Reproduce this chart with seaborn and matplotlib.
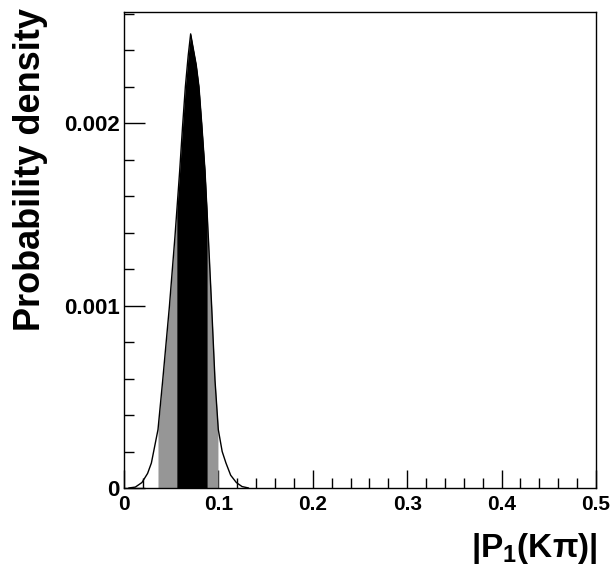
import numpy as np
import pandas as pd
import seaborn as sns
import matplotlib
matplotlib.use("Agg")
import matplotlib.pyplot as plt
from matplotlib.ticker import MultipleLocator, FuncFormatter

# Posterior density of |P1(Kpi)|
p1_values = [0.005, 0.012, 0.019, 0.025, 0.029, 0.036, 0.041, 0.048, 0.054,
             0.059, 0.062, 0.065, 0.068, 0.0706, 0.073, 0.0765, 0.0794,
             0.0823, 0.0858, 0.0893, 0.0929, 0.0964, 0.0999, 0.104, 0.108,
             0.113, 0.119, 0.125, 0.132]
density = [0.0, 0.000005, 0.00003, 0.00008, 0.000137, 0.00032, 0.00059,
           0.00099, 0.00138, 0.00174, 0.00198, 0.0022, 0.00237, 0.00249,
           0.00242, 0.00232, 0.0022, 0.002, 0.00174, 0.00138, 0.00099,
           0.00059, 0.00032, 0.0002, 0.000137, 0.00007, 0.00003, 0.000008,
           0.0]

# Credible intervals (outer: 95%, inner: 68%)
outer_interval = [0.036, 0.0995]
inner_interval = [0.056, 0.088]

x_ticks = [0, 0.1, 0.2, 0.3, 0.4, 0.5]
y_ticks = [0, 0.001, 0.002]

sns.set_theme(style="ticks")
plt.rcParams["font.family"] = ["Liberation Sans", "DejaVu Sans"]
plt.rcParams["font.weight"] = "bold"
plt.rcParams["text.color"] = "black"
plt.rcParams["xtick.color"] = "black"
plt.rcParams["ytick.color"] = "black"
plt.rcParams["mathtext.fontset"] = "custom"
plt.rcParams["mathtext.rm"] = "Liberation Sans:bold"
plt.rcParams["mathtext.it"] = "Liberation Sans:bold"
plt.rcParams["mathtext.bf"] = "Liberation Sans:bold"

df = pd.DataFrame({"p1": p1_values, "density": density})

fig = plt.figure(figsize=(6.13, 5.68), dpi=100)
ax = fig.add_axes([124 / 613, 80 / 568, 472 / 613, 476 / 568])

xs = np.array(p1_values)
ys = np.array(density)


def shade(lo, hi, color):
    inside = (xs > lo) & (xs < hi)
    xx = np.concatenate([[lo], xs[inside], [hi]])
    yy = np.interp(xx, xs, ys)
    ax.fill_between(xx, 0, yy, color=color, linewidth=0)


shade(*outer_interval, "#969696")
shade(*inner_interval, "black")
sns.lineplot(data=df, x="p1", y="density", color="black", linewidth=1.0,
             ax=ax, legend=False)

ax.set_xlim(0, 0.5)
ax.set_ylim(0, 0.00261)

ax.set_xticks(x_ticks)
ax.set_yticks(y_ticks)
ax.xaxis.set_minor_locator(MultipleLocator(0.02))
ax.yaxis.set_minor_locator(MultipleLocator(0.0002))

ax.xaxis.set_major_formatter(FuncFormatter(lambda v, p: "0" if abs(v) < 1e-12 else f"{v:.1f}"))
ax.yaxis.set_major_formatter(FuncFormatter(lambda v, p: "0" if abs(v) < 1e-12 else f"{v:.3f}"))

ax.tick_params(which="both", direction="in", color="black", width=1.0,
               top=False, right=False)
ax.tick_params(axis="x", which="major", length=13, pad=5, labelsize=15)
ax.tick_params(axis="y", which="major", length=15, pad=3, labelsize=16)
ax.tick_params(which="minor", length=7)
for lab in ax.get_xticklabels() + ax.get_yticklabels():
    lab.set_fontweight("bold")

for s in ax.spines.values():
    s.set_color("black")
    s.set_linewidth(1.0)

ax.set_xlabel("")
ax.set_ylabel("")
fig.text(597 / 613, 11 / 568, r"|P$_1$(K$\pi$)|", ha="right", va="baseline",
         fontsize=24, fontweight="bold")
fig.text(31 / 613, 560 / 568, "Probability density", rotation=90,
         ha="center", va="top", fontsize=26, fontweight="bold")

fig.savefig("out.png", dpi=100)
